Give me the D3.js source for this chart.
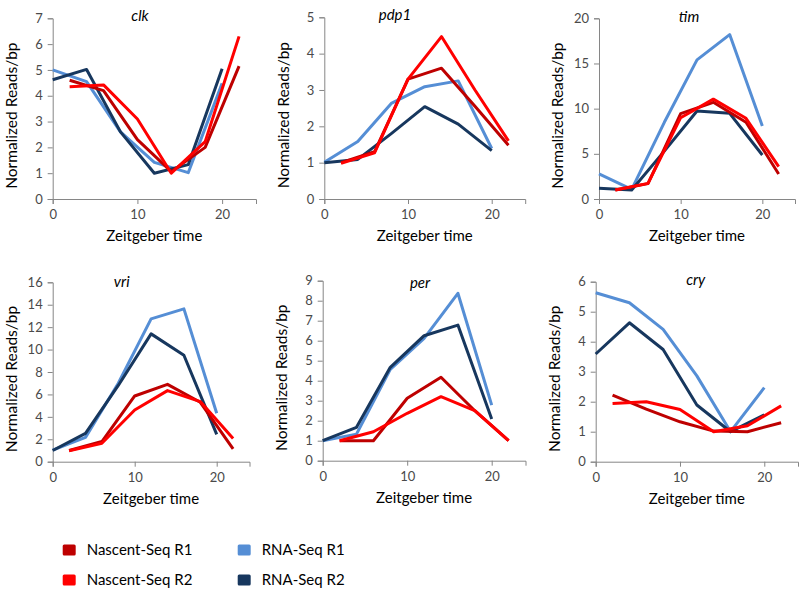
<!DOCTYPE html>
<html><head><meta charset="utf-8">
<script src="https://cdn.jsdelivr.net/npm/d3@7"></script>
<style>body{margin:0;background:#fff}svg{display:block}</style>
</head><body>
<svg id="c" width="800" height="592"></svg>
<script>
// ---- data ----
const nascentTimes = [2, 6, 10, 14, 18, 22];
const rnaTimes = [0, 4, 8, 12, 16, 20];
const seriesNames = ["Nascent-Seq R1", "Nascent-Seq R2", "RNA-Seq R1", "RNA-Seq R2"];
const genes = ["clk", "pdp1", "tim", "vri", "per", "cry"];
const yMaxes = [7, 5, 20, 16, 9, 6];
const yTickSteps = [1, 1, 5, 2, 1, 1];
const xTicks = [0, 10, 20];

const clkN1 = [4.6, 4.2, 2.3, 1.06, 2.0, 5.15];
const clkN2 = [4.35, 4.42, 3.1, 1.0, 2.22, 6.3];
const clkR1 = [5.0, 4.55, 2.6, 1.42, 1.02, 4.48];
const clkR2 = [4.62, 5.02, 2.6, 1.0, 1.33, 5.05];

const pdp1N1 = [1.0, 1.3, 3.3, 3.6, 2.55, 1.48];
const pdp1N2 = [0.98, 1.27, 3.3, 4.47, 3.0, 1.6];
const pdp1R1 = [1.01, 1.58, 2.63, 3.09, 3.25, 1.39];
const pdp1R2 = [1.0, 1.09, 1.8, 2.54, 2.06, 1.33];

const timN1 = [1.0, 1.7, 9.45, 10.7, 8.5, 2.77];
const timN2 = [1.0, 1.73, 9.0, 11.05, 8.93, 3.58];
const timR1 = [2.77, 1.07, 8.49, 15.4, 18.2, 8.08];
const timR2 = [1.18, 1.0, 5.3, 9.74, 9.48, 4.87];

const vriN1 = [1.0, 1.8, 5.86, 6.9, 5.3, 1.15];
const vriN2 = [0.97, 1.64, 4.61, 6.34, 5.36, 2.08];
const vriR1 = [1.04, 2.17, 7.0, 12.74, 13.63, 4.32];
const vriR2 = [1.0, 2.53, 6.8, 11.4, 9.49, 2.44];

const perN1 = [1.0, 1.0, 3.12, 4.17, 2.5, 1.0];
const perN2 = [1.0, 1.45, 2.37, 3.2, 2.5, 1.0];
const perR1 = [1.0, 1.33, 4.57, 6.12, 8.37, 2.78];
const perR2 = [1.0, 1.67, 4.67, 6.25, 6.78, 2.08];

const cryN1 = [2.22, 1.75, 1.33, 1.02, 1.0, 1.3];
const cryN2 = [1.94, 2.0, 1.74, 1.0, 1.2, 1.86];
const cryR1 = [5.63, 5.3, 4.41, 2.86, 1.0, 2.47];
const cryR2 = [3.59, 4.63, 3.74, 1.89, 1.0, 1.56];

const geneSeries = [
  [clkN1, clkN2, clkR1, clkR2],
  [pdp1N1, pdp1N2, pdp1R1, pdp1R2],
  [timN1, timN2, timR1, timR2],
  [vriN1, vriN2, vriR1, vriR2],
  [perN1, perN2, perR1, perR2],
  [cryN1, cryN2, cryR1, cryR2]
];

// ---- layout / style ----
const colors = ["#BE0000", "#FF0000", "#558ED5", "#17375E"];
const panels = [
  {x0: 52.7, x1: 256, yTop: 18.3, yBot: 199, tx: 140, ty: 16},
  {x0: 324.3, x1: 525.2, yTop: 17.3, yBot: 199, tx: 395, ty: 15},
  {x0: 599, x1: 795, yTop: 18.3, yBot: 199, tx: 689, ty: 17},
  {x0: 52.7, x1: 249.5, yTop: 282.3, yBot: 461.7, tx: 121.7, ty: 282},
  {x0: 322.7, x1: 525.5, yTop: 280.7, yBot: 460.7, tx: 420, ty: 283},
  {x0: 595.7, x1: 798, yTop: 281.7, yBot: 461.7, tx: 695.7, ty: 280}
];
const FONT = "Lato, 'Open Sans', sans-serif";
const drawOrder = [2, 3, 0, 1];

const svg = d3.select("#c");

genes.forEach((g, i) => {
  const p = panels[i];
  const x = d3.scaleLinear().domain([0, 24]).range([p.x0, p.x1]);
  const y = d3.scaleLinear().domain([0, yMaxes[i]]).range([p.yBot, p.yTop]);
  const yt = d3.range(0, yMaxes[i] + 0.001, yTickSteps[i]);

  const gx = svg.append("g").attr("transform", `translate(0,${p.yBot})`)
    .call(d3.axisBottom(x).tickValues(xTicks).tickSize(5).tickPadding(6).tickFormat(d3.format("d")));
  const gy = svg.append("g").attr("transform", `translate(${p.x0},0)`)
    .call(d3.axisLeft(y).tickValues(yt).tickSize(5).tickPadding(5).tickFormat(d3.format("d")));
  [gx, gy].forEach(a => {
    a.select(".domain").attr("stroke", "#868686").attr("stroke-width", 1);
    a.selectAll(".tick line").attr("stroke", "#868686");
    a.selectAll(".tick text").attr("fill", "#4a4a4a").style("font-family", FONT).style("font-size", "13px");
  });

  const line = d3.line().x(d => x(d[0])).y(d => y(d[1]));
  drawOrder.forEach(s => {
    const times = s < 2 ? nascentTimes : rnaTimes;
    const pts = times.map((t, k) => [t, geneSeries[i][s][k]]);
    svg.append("path").datum(pts).attr("d", line)
      .attr("fill", "none").attr("stroke", colors[s]).attr("stroke-width", 3)
      .attr("stroke-linejoin", "round").attr("stroke-linecap", "butt");
  });

  svg.append("text").attr("x", p.tx).attr("y", p.ty).attr("dy", "0.35em")
    .attr("text-anchor", "middle").style("font-family", FONT).style("font-size", "15px")
    .style("font-style", "italic").attr("fill", "#000").text(g);

  svg.append("text").attr("x", (p.x0 + p.x1) / 2).attr("y", p.yBot + 37).attr("dy", "0.35em")
    .attr("text-anchor", "middle").style("font-family", FONT).style("font-size", "15px")
    .attr("fill", "#000").text("Zeitgeber time");

  const cy = (p.yTop + p.yBot) / 2 + 7;
  svg.append("text").attr("transform", `translate(${p.x0 - 41},${cy}) rotate(-90)`)
    .attr("dy", "0.35em").attr("text-anchor", "middle").style("font-family", FONT)
    .style("font-size", "15.5px").attr("fill", "#000").text("Normalized Reads/bp");
});

// legend
const legPos = [[62.7, 550], [62.7, 580], [237.7, 550], [237.7, 580]];
seriesNames.forEach((n, s) => {
  const [lx, ly] = legPos[s];
  svg.append("rect").attr("x", lx).attr("y", ly - 5.5).attr("width", 13).attr("height", 11)
    .attr("rx", 1.5).attr("fill", colors[s]);
  svg.append("text").attr("x", lx + 24).attr("y", ly).attr("dy", "0.35em")
    .style("font-family", FONT).style("font-size", "15px").attr("fill", "#000").text(n);
});
</script>
</body></html>
